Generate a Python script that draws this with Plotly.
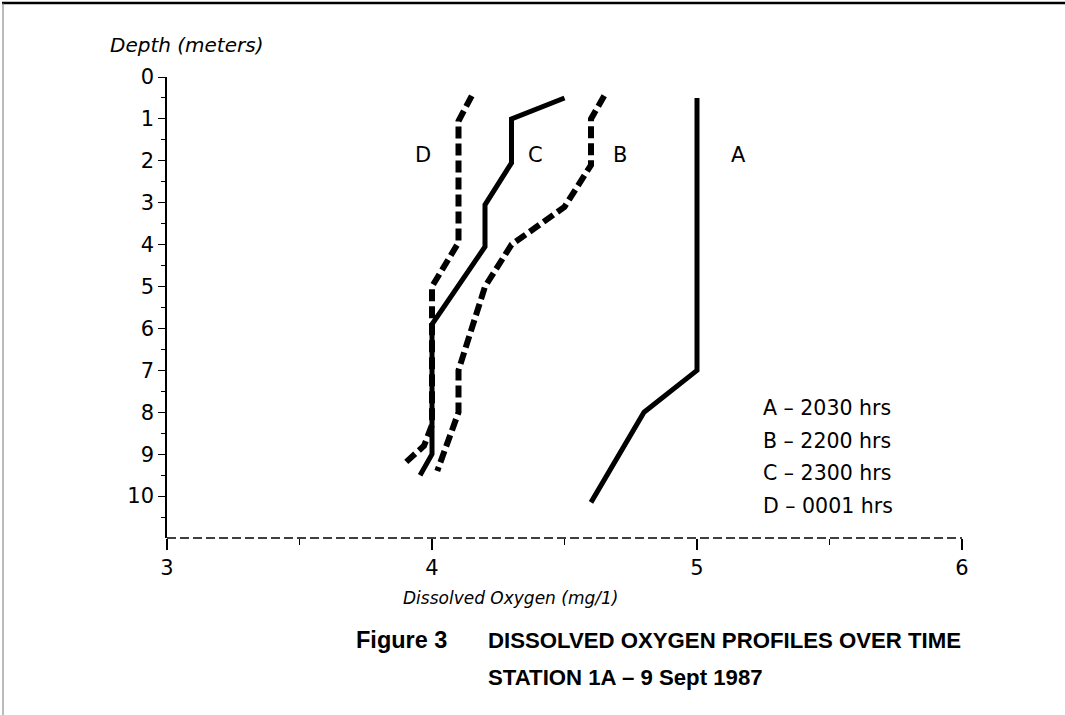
import plotly.graph_objects as go

# ---- data (dissolved oxygen mg/l vs depth m) ----
a_do = [5.0, 5.0, 4.8, 4.6]
a_depth = [0.5, 7.0, 8.0, 10.15]

b_do = [4.65, 4.6, 4.6, 4.5, 4.3, 4.2, 4.1, 4.1, 4.02]
b_depth = [0.45, 1.0, 2.1, 3.1, 4.0, 5.0, 7.0, 8.0, 9.4]

c_do = [4.5, 4.3, 4.3, 4.2, 4.2, 4.0, 4.0, 3.955]
c_depth = [0.5, 1.0, 2.05, 3.05, 4.05, 5.9, 9.0, 9.5]

d_do = [4.15, 4.1, 4.1, 4.0, 4.0, 4.0, 3.97, 3.9]
d_depth = [0.45, 1.05, 3.95, 5.0, 5.75, 8.3, 8.8, 9.2]

curve_labels = ["A", "B", "C", "D"]
curve_label_x = [5.155, 4.71, 4.39, 3.965]
curve_label_y = [1.86, 1.86, 1.86, 1.86]

legend_lines = ["A \u2013 2030 hrs", "B \u2013 2200 hrs", "C \u2013 2300 hrs", "D \u2013 0001 hrs"]

x_ticks = [3, 4, 5, 6]
y_ticks = list(range(0, 11))

FONT = "DejaVu Sans"

# plot area geometry in pixels
L, R, T, B = 167, 962, 77, 538
W, H = 1065, 715


def px(x):
    return (x - L) / (R - L)


def py(y):
    return (B - y) / (B - T)


fig = go.Figure()

solid = dict(color="black", width=5)
dashed = dict(color="black", width=6, dash="12px,5px")

fig.add_trace(go.Scatter(x=a_do, y=a_depth, mode="lines", line=solid, name="A"))
fig.add_trace(go.Scatter(x=b_do, y=b_depth, mode="lines", line=dashed, name="B"))
fig.add_trace(go.Scatter(x=c_do, y=c_depth, mode="lines", line=solid, name="C"))
fig.add_trace(go.Scatter(x=d_do, y=d_depth, mode="lines", line=dashed, name="D"))

annotations = []
for lab, lx, ly in zip(curve_labels, curve_label_x, curve_label_y):
    annotations.append(dict(x=lx, y=ly, xref="x", yref="y", text=lab, showarrow=False,
                            font=dict(family=FONT, size=21, color="black")))

leg_y = [408, 441, 473, 506]
for t, yy in zip(legend_lines, leg_y):
    annotations.append(dict(x=px(761), y=py(yy), xref="paper", yref="paper", text=t,
                            showarrow=False, xanchor="left", yanchor="middle",
                            font=dict(family=FONT, size=20.5, color="black")))

annotations.append(dict(x=px(108), y=py(45), xref="paper", yref="paper",
                        text="<i>Depth (meters)</i>", showarrow=False,
                        xanchor="left", yanchor="middle",
                        font=dict(family=FONT, size=20, color="black")))
annotations.append(dict(x=px(510), y=py(598), xref="paper", yref="paper",
                        text="<i>Dissolved Oxygen (mg/1)</i>", showarrow=False,
                        xanchor="center", yanchor="middle",
                        font=dict(family=FONT, size=17, color="black")))

title_font = dict(family="Liberation Sans", size=22.2, color="black")
annotations.append(dict(x=px(354), y=py(640), xref="paper", yref="paper",
                        text="<b>Figure 3</b>", showarrow=False,
                        xanchor="left", yanchor="middle",
                        font=dict(family="Liberation Sans", size=23.5, color="black")))
annotations.append(dict(x=px(486), y=py(640), xref="paper", yref="paper",
                        text="<b>DISSOLVED OXYGEN PROFILES OVER TIME</b>", showarrow=False,
                        xanchor="left", yanchor="middle", font=title_font))
annotations.append(dict(x=px(486), y=py(677), xref="paper", yref="paper",
                        text="<b>STATION 1A \u2013 9 Sept 1987</b>", showarrow=False,
                        xanchor="left", yanchor="middle", font=title_font))

shapes = [
    # dashed-looking x axis line
    dict(type="line", xref="paper", yref="paper", x0=0, x1=1, y0=0, y1=0,
         line=dict(color="black", width=1.5, dash="9px,4px")),
    # frame top
    dict(type="line", xref="paper", yref="paper", x0=px(2), x1=px(1065), y0=py(3), y1=py(3),
         line=dict(color="black", width=2.5)),
    # frame left
    dict(type="line", xref="paper", yref="paper", x0=px(3), x1=px(3), y0=py(3), y1=py(715),
         line=dict(color="#777777", width=1)),
]

fig.update_layout(
    width=W, height=H,
    margin=dict(l=L, r=W - R, t=T, b=H - B, pad=0),
    paper_bgcolor="white", plot_bgcolor="white",
    showlegend=False,
    annotations=annotations,
    shapes=shapes,
    font=dict(family=FONT, color="black"),
)

fig.update_xaxes(
    range=[3, 6], tickvals=x_ticks, ticktext=[str(v) for v in x_ticks],
    showgrid=False, zeroline=False, showline=False,
    ticks="outside", ticklen=11, tickwidth=1.5, tickcolor="black",
    minor=dict(tickvals=[3.5, 4.5, 5.5], ticks="outside", ticklen=6, tickwidth=1.2, tickcolor="black"),
    tickfont=dict(family=FONT, size=21, color="black"),
)
fig.update_yaxes(
    range=[11, 0], tickvals=y_ticks, ticktext=[str(v) for v in y_ticks],
    showgrid=False, zeroline=False, showline=True, linecolor="black", linewidth=1.5,
    ticks="outside", ticklen=7, tickwidth=1.2, tickcolor="black",
    minor=dict(tickvals=[v + 0.5 for v in range(0, 11)], ticks="outside", ticklen=4, tickwidth=1, tickcolor="black"),
    tickfont=dict(family=FONT, size=21, color="black"),
)

fig.write_html("out.html", config={"displayModeBar": False},
               post_script="document.body.style.margin='0px';")
